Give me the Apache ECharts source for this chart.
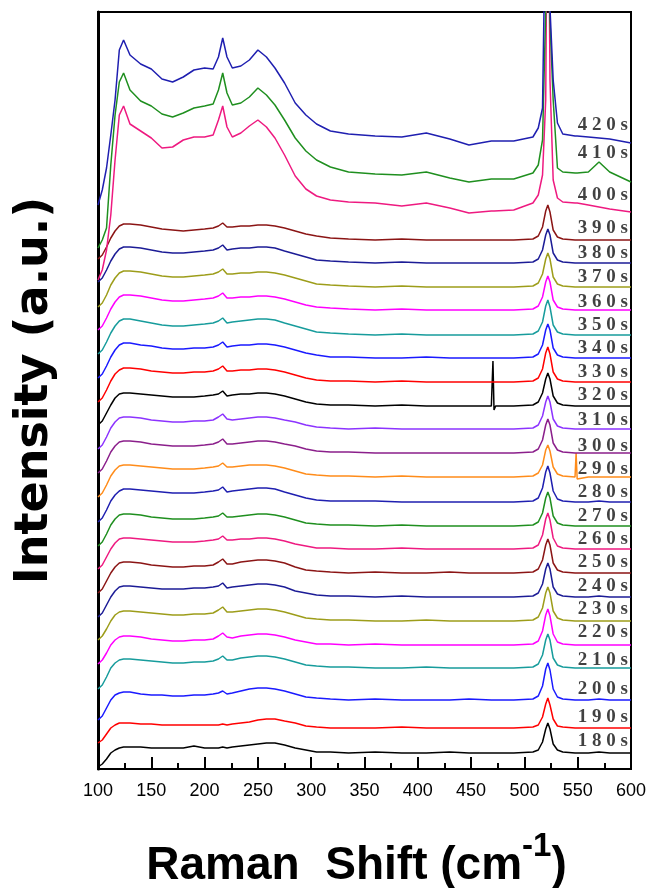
<!DOCTYPE html>
<html>
<head>
<meta charset="utf-8">
<title>Raman spectra 180s - 420s</title>
<script src="https://cdn.jsdelivr.net/npm/echarts@6/dist/echarts.min.js"></script>
<style>
  html, body { margin: 0; padding: 0; background: #fff; }
  #chart { width: 655px; height: 888px; }
</style>
</head>
<body>
<div id="chart"></div>
<script>
  // Raman shift sample points (cm-1), shared by all spectra
  const shift = [100,104,108,112,116,120,124, 130,140,150,160,170,180,190,200,208, 213,217,221,226,
    234,242,250,258,266,275,285,295,305, 318,335,360,385,408,430,448,469,470.5,471.5,473,490,
    508,513,517,520,522,524,527,531,536, 547.5,548.5,549.5,551,560,570,580,600];

  const times = ['180s','190s','200s','210s','220s','230s','240s','250s','260s','270s','280s','290s','300s',
    '310s','320s','330s','340s','350s','360s','370s','380s','390s','400s','410s','420s'];

  // level of each spectrum's flat tail (stacking offset)
  const baseline = [16,41,69,101,124,148,172,196,220,243,267,292,316,340,363,387,411,434,459,482,506,529,557,587,626];

  // intensity above the tail
  const i180 = [-14,-11,-6,0,3,5,6, 6,6,5,5,5,5,7,5,5, 5,6,5,6, 7,8,9,10,10,8,5,3,1, 1,0,1,0,0,1,0,0,0,0,0,0, 1,3,11,24,30,24,9,3,1, 0,0,0,0,0,1,0,0];
  const i190 = [-15,-12,-6,0,3,5,5, 5,4,4,3,3,3,3,3,3, 3,4,3,4, 5,6,8,9,9,7,5,2,1, 0,0,0,1,0,0,0,0,0,0,0,0, 1,3,11,24,30,23,9,2,1, 0,0,0,0,0,0,0,0];
  const i200 = [-20,-16,-8,0,5,7,8, 8,6,5,5,4,4,5,5,6, 7,9,6,7, 9,11,12,12,11,9,6,3,2, 1,0,1,0,0,0,1,0,0,0,0,0, 1,4,14,31,37,30,11,3,1, 0,0,0,0,0,1,0,0];
  const i210 = [-21,-17,-9,0,5,8,9, 9,8,7,6,5,5,6,6,7, 9,12,8,8, 10,11,12,12,11,9,6,3,2, 1,1,0,0,1,0,0,0,0,0,0,0, 1,4,13,28,34,28,10,3,1, 0,0,0,0,0,0,0,0];
  const i220 = [-19,-15,-8,0,5,8,9, 9,8,6,5,4,4,5,5,6, 9,12,8,7, 9,10,11,11,10,8,5,3,1, 1,0,1,0,0,0,0,0,0,0,0,0, 1,4,14,30,36,29,11,3,1, 0,0,0,0,0,0,0,0];
  const i230 = [-19,-15,-8,0,6,9,10, 10,9,8,7,6,6,7,7,8, 11,14,9,9, 10,11,12,12,11,9,6,3,2, 1,1,0,0,1,0,0,0,0,0,0,0, 1,4,13,28,34,28,10,3,1, 0,0,0,0,0,0,0,0];
  const i240 = [-20,-16,-8,0,6,10,11, 11,10,9,8,8,8,9,9,10, 11,14,9,10, 11,12,13,13,12,10,6,4,2, 1,1,0,1,0,0,0,0,0,0,0,0, 1,4,13,28,34,28,10,3,1, 0,0,0,0,0,1,0,0];
  const i250 = [-20,-16,-8,0,6,10,11, 11,10,8,7,6,6,7,7,8, 11,14,9,9, 11,12,13,13,12,10,6,3,2, 1,0,1,0,0,1,0,0,0,0,0,0, 1,4,13,28,34,28,10,3,1, 0,0,0,0,0,0,0,0];
  const i260 = [-20,-16,-8,0,6,10,11, 11,10,9,8,7,7,7,8,9, 10,13,9,9, 10,10,11,11,10,8,5,3,1, 1,0,0,1,0,0,0,0,0,0,0,0, 1,4,14,30,36,29,11,3,1, 0,0,0,0,0,0,0,0];
  const i270 = [-20,-16,-8,1,7,11,12, 12,11,9,8,7,7,7,8,9, 10,13,9,9, 10,11,12,12,11,9,6,3,2, 1,1,0,1,0,0,0,0,0,0,0,0, 1,4,13,28,34,28,10,3,1, 0,0,0,0,0,0,0,0];
  const i280 = [-20,-16,-8,1,7,11,13, 13,12,11,10,9,9,9,10,11, 12,15,10,11, 12,13,14,14,13,10,7,4,2, 1,1,1,0,0,0,0,0,0,0,0,0, 1,4,14,30,36,29,11,3,1, 0,0,0,0,0,1,0,0];
  const i290 = [-20,-16,-8,1,7,11,12, 12,11,10,9,8,8,8,9,10, 11,14,10,10, 11,12,12,12,11,9,6,3,2, 1,1,0,1,0,0,0,0,0,0,0,0, 1,4,12,27,32,26,10,3,1, 0,24,-2,0,0,0,0,0];
  const i300 = [-20,-16,-8,1,7,11,12, 12,11,9,8,7,7,7,8,9, 11,14,9,9, 10,11,12,12,11,9,7,4,2, 1,1,0,0,0,0,0,0,0,0,0,0, 1,4,13,28,34,28,10,3,1, 0,0,0,0,0,0,0,0];
  const i310 = [-20,-16,-8,1,7,11,12, 12,11,9,8,7,7,8,8,9, 12,15,10,9, 10,11,12,12,11,9,7,4,2, 1,0,1,0,0,0,0,0,0,0,0,0, 1,4,13,27,33,27,10,3,1, 0,0,0,0,0,0,0,0];
  const i320 = [-19,-15,-7,1,8,12,13, 13,12,11,10,9,9,9,10,11, 12,15,10,11, 12,12,13,13,12,10,7,4,2, 1,1,0,1,0,0,0,0,45,-4,0,0, 1,4,13,27,33,27,10,3,1, 0,0,0,0,0,0,0,0];
  const i330 = [-20,-16,-8,1,8,12,14, 14,13,11,10,9,9,10,10,11, 13,16,11,11, 12,12,13,13,12,10,7,4,2, 1,1,0,1,0,0,0,0,0,0,0,0, 1,4,13,29,35,28,10,3,1, 0,0,0,0,0,0,0,0];
  const i340 = [-20,-16,-8,1,8,13,15, 15,13,12,10,9,9,10,10,11, 13,16,11,12, 13,13,14,14,13,11,8,5,3, 1,1,0,0,1,0,0,0,0,0,0,0, 1,4,13,28,34,28,10,3,1, 0,0,0,0,0,0,0,0];
  const i350 = [-19,-15,-7,2,9,14,16, 16,14,12,10,9,9,10,11,12, 14,17,12,13, 14,15,16,16,15,12,9,6,3, 2,1,0,1,0,0,0,0,0,0,0,0, 1,4,13,29,35,28,10,3,1, 0,0,0,0,0,0,0,0];
  const i360 = [-20,-16,-8,1,8,13,15, 15,14,12,10,9,9,10,11,12, 14,17,12,12, 13,13,14,14,13,11,8,5,3, 2,1,0,1,0,0,0,0,0,0,0,0, 1,4,13,28,34,28,10,3,1, 0,0,0,0,0,0,0,0];
  const i370 = [-20,-16,-8,2,9,14,16, 16,15,13,11,10,10,11,12,13, 15,18,13,13, 14,14,15,15,14,12,9,6,3, 2,1,0,1,0,0,0,0,0,0,0,0, 1,4,13,28,34,28,10,3,1, 0,0,0,0,0,0,0,0];
  const i380 = [-19,-15,-7,2,9,14,16, 16,15,13,11,10,10,11,12,13, 15,18,13,14, 15,15,16,16,15,12,9,6,3, 2,1,0,1,0,0,0,0,0,0,0,0, 1,4,13,28,34,28,10,3,1, 0,0,0,0,0,0,0,0];
  const i390 = [-19,-15,-7,2,9,14,16, 16,15,13,11,10,9,10,11,12, 14,17,13,13, 14,14,15,15,14,12,9,6,4, 2,1,0,1,0,0,0,0,0,0,0,0, 1,4,13,29,35,28,10,3,1, 0,0,0,0,0,0,0,0];
  const i400 = [-68,-58,-38,-3,52,97,106, 88,81,74,64,65,72,75,75,77, 92,106,85,75, 79,86,92,85,74,57,36,23,16, 12,10,9,6,9,4,-1,1,1,1,1,2, 9,17,37,112,420,132,32,14,10, 9,9,9,9,7,5,3,0];
  const i410 = [-66,-58,-46,17,67,100,109, 92,81,76,68,65,69,74,76,78, 92,109,89,77, 79,85,94,87,77,62,44,31,22, 15,10,8,7,10,4,0,3,3,3,3,3, 9,17,42,172,480,162,82,14,10, 9,9,9,9,10,20,10,0];
  const i420 = [-62,-47,-25,8,43,93,103, 88,79,74,64,61,66,73,75,74, 86,105,86,75, 77,83,93,86,75,60,40,28,19, 12,9,7,6,10,4,-2,2,2,2,2,2, 6,15,35,250,420,135,63,20,9, 7,7,7,7,6,5,4,0];

  const spectra = [i180,i190,i200,i210,i220,i230,i240,i250,i260,i270,i280,i290,i300,
    i310,i320,i330,i340,i350,i360,i370,i380,i390,i400,i410,i420];

  // Origin style colour cycle
  const colors = ['#000000','#ff0000','#1a1aff','#179c9c','#ff00ff','#9d9d1a','#1c1c96',
    '#8b1515','#ee1a80','#1f8f1f','#1f1fb0','#ff8c1a','#8b1f8b','#8c33ff'];

  // how far each time label sits above its tail
  const labelLift = [12,11,11,8,13,12,11,11,10,10,10,8,7,9,11,10,10,10,8,10,10,12,17,29,18];

  const series = spectra.map((rel, k) => ({
    name: times[k],
    type: 'line',
    symbol: 'none',
    clip: true,
    lineStyle: { width: 1.5, color: colors[k % colors.length] },
    itemStyle: { color: colors[k % colors.length] },
    data: shift.map((x, j) => [x, baseline[k] + rel[j]])
  }));

  series.push({
    type: 'scatter',
    symbolSize: 0,
    silent: true,
    z: 5,
    data: times.map((t, k) => ({ name: t.split('').join(' '), value: [597, baseline[k] + labelLift[k]] })),
    label: {
      show: true, position: 'left', distance: 0, formatter: '{b}',
      fontFamily: 'Liberation Serif', fontWeight: 'bold', fontSize: 19, color: '#111'
    }
  });

  const chart = echarts.init(document.getElementById('chart'));
  chart.setOption({
    animation: false,
    grid: {
      left: 98, right: 24, top: 12, bottom: 119,
      show: true, borderColor: '#000', borderWidth: 2,
      outerBoundsMode: 'none'
    },
    xAxis: {
      type: 'value', min: 100, max: 600, interval: 50,
      name: 'Raman  Shift (cm{sup|-1})',
      nameLocation: 'middle', nameGap: 61,
      nameTextStyle: {
        fontFamily: 'Liberation Sans', fontWeight: 'bold', fontSize: 46, color: '#000',
        lineHeight: 72, padding: [0, 16, 0, 0],
        rich: {
          sup: { fontFamily: 'Liberation Sans', fontWeight: 'bold', fontSize: 33, lineHeight: 30,
            verticalAlign: 'top', color: '#000' }
        }
      },
      axisLine: { show: true, lineStyle: { color: '#000', width: 2 } },
      axisTick: { show: true, inside: true, length: 12, lineStyle: { color: '#000', width: 2 } },
      minorTick: { show: true, splitNumber: 2, length: 6, lineStyle: { color: '#000', width: 2 } },
      axisLabel: { fontFamily: 'Liberation Sans', fontSize: 18, color: '#000', margin: 13 },
      splitLine: { show: false }
    },
    yAxis: {
      type: 'value', min: 0, max: 757,
      name: 'Intensity (a.u.)',
      nameLocation: 'middle', nameRotate: 90, nameGap: 40,
      nameTextStyle: { fontFamily: 'DejaVu Sans', fontWeight: 'bold', fontSize: 46, color: '#000' },
      axisLine: { show: true, lineStyle: { color: '#000', width: 3 } },
      axisTick: { show: false },
      axisLabel: { show: false },
      splitLine: { show: false }
    },
    series: series
  });
</script>
</body>
</html>
